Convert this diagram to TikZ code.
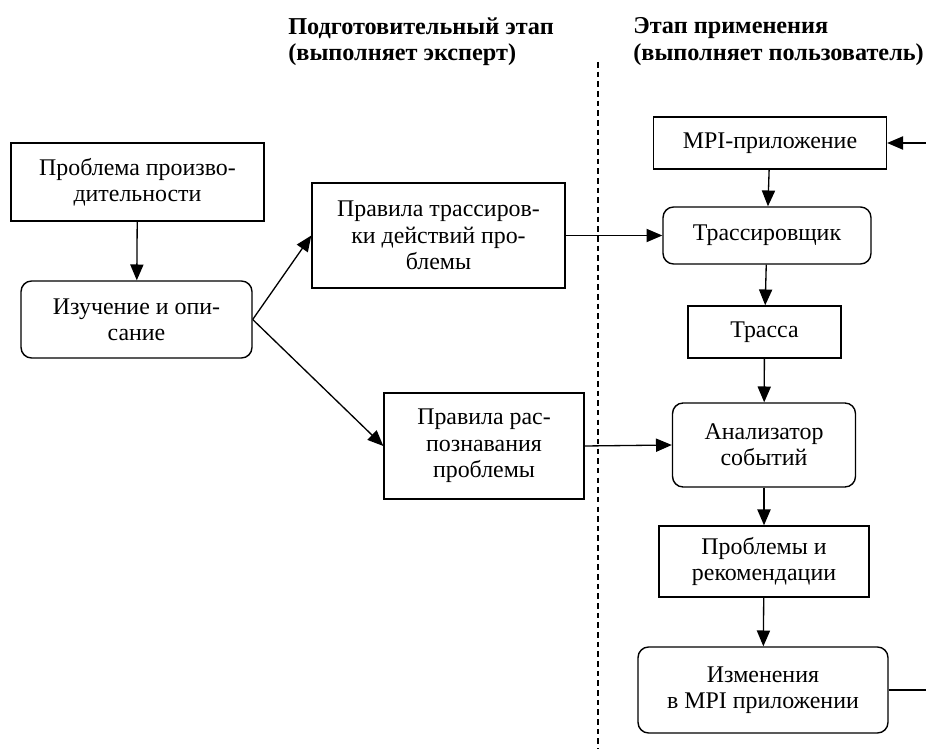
\documentclass[tikz,border=0pt]{standalone}
\usepackage{fontspec}
\setmainfont{Liberation Serif}
\usepackage{tikz}
\usetikzlibrary{positioning,arrows.meta}

\begin{document}
\begin{tikzpicture}[x=0.02cm,y=-0.02cm,
  box/.style={draw,line width=0.8pt,align=center,inner sep=0pt,font=\fontsize{13.6}{15}\selectfont},
  rbox/.style={box,rounded corners=6pt},
  head/.style={anchor=north west,align=left,inner sep=0pt,font=\fontsize{13.8}{15.3}\selectfont\bfseries},
  arr/.style={-{Triangle[length=9pt,width=7.5pt]},line width=0.75pt}]
  \useasboundingbox (0,0) rectangle (926,749);
  \node[head] (prephead) at (288,17) {Подготовительный этап\\(выполняет эксперт)};
  \node[head] (usehead) at (633,17) {Этап применения\\(выполняет пользователь)};
  \draw[line width=1pt,dash pattern=on 3.2pt off 2.3pt] (598,62) -- (598,749);

  \node[box,minimum width=5.06cm,minimum height=1.56cm] (perf) at (137.5,182) {Проблема произво-\\дительности};
  \node[rbox,minimum width=4.62cm,minimum height=1.54cm] (study) at (136.5,319.5) {Изучение и опи-\\сание};
  \node[box,minimum width=5.06cm,minimum height=2.1cm] (tracerules) at (438.5,235.5) {Правила трассиров-\\ки действий про-\\блемы};
  \node[box,minimum width=4cm,minimum height=2.12cm] (detectrules) at (484,446) {Правила рас-\\познавания\\проблемы};

  \node[box,minimum width=4.66cm,minimum height=1.04cm] (app) at (770,143) {MPI-приложение};
  \node[rbox,minimum width=4.16cm,minimum height=1.14cm] (tracer) at (767,235.5) {Трассировщик};
  \node[box,minimum width=3.06cm,minimum height=1.04cm] (trace) at (764.5,332) {Трасса};
  \node[rbox,minimum width=3.66cm,minimum height=1.68cm] (analyzer) at (764,445) {Анализатор\\событий};
  \node[box,minimum width=4.2cm,minimum height=1.42cm] (advice) at (764,561.5) {Проблемы и\\рекомендации};
  \node[rbox,minimum width=5cm,minimum height=1.72cm] (changes) at (763,690) {Изменения\\в MPI приложении};

  \coordinate (loopout) at (926,690);
  \coordinate (loopin) at (926,143);

  \draw[arr] (perf) -- (study);
  \draw[arr] (study.east) -- (tracerules.west);
  \draw[arr] (study.east) -- (detectrules.west);
  \draw[arr] (tracerules.east) -- (tracer.west);
  \draw[arr] (detectrules.east) -- (analyzer.west);
  \draw[arr] (app) -- (tracer);
  \draw[arr] (tracer) -- (trace);
  \draw[arr] (trace) -- (analyzer);
  \draw[arr] (analyzer) -- (advice);
  \draw[arr] (advice) -- (changes);
  \draw[line width=0.75pt] (changes.east) -- (loopout);
  \draw[arr] (loopin) -- (app.east);
\end{tikzpicture}
\end{document}
